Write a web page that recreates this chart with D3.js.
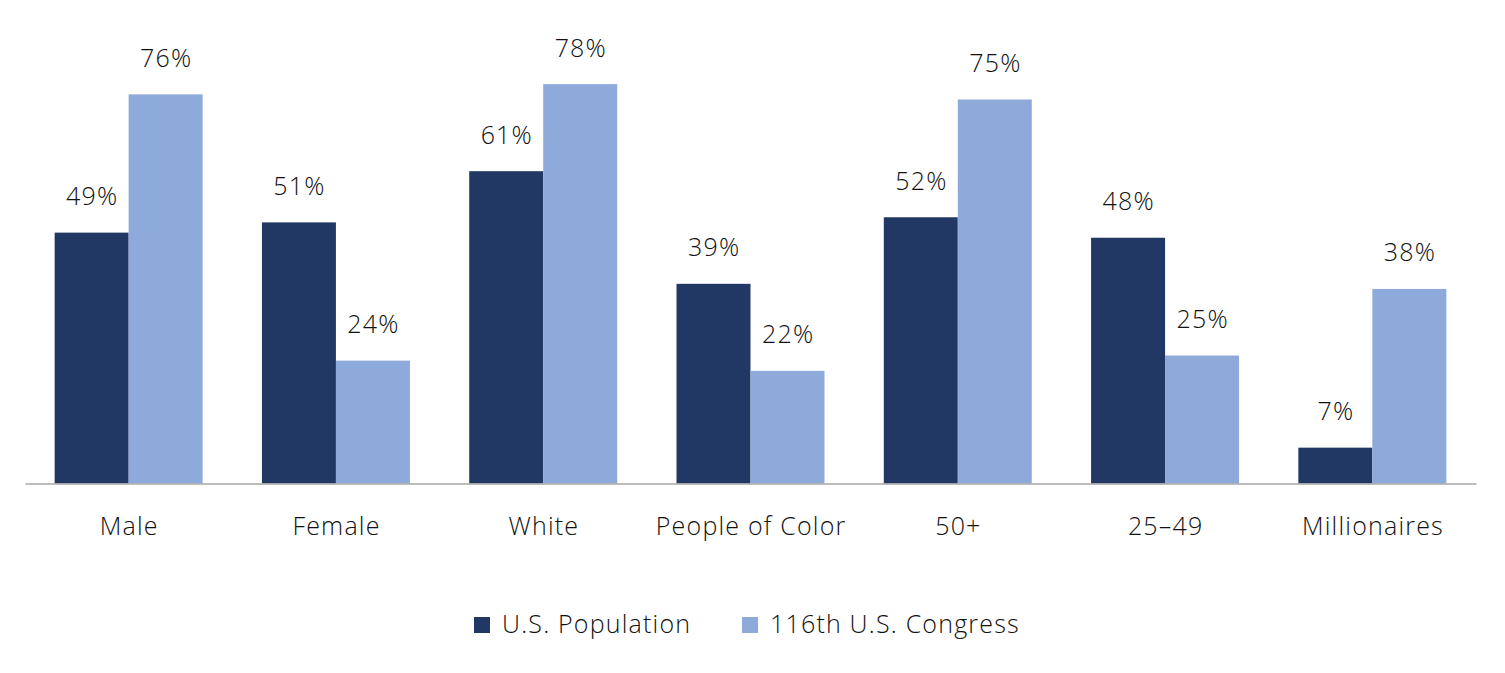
<!DOCTYPE html>
<html><head><meta charset="utf-8">
<script src="https://cdn.jsdelivr.net/npm/d3@7"></script>
<style>body{margin:0;background:#fff;} text{font-family:"Open Sans", Lato, sans-serif;fill:#111;font-weight:300;letter-spacing:1.2px;}</style>
</head><body>
<svg id="c" width="1505" height="673"></svg>
<script>
const categories = ["Male","Female","White","People of Color","50+","25–49","Millionaires"];
const seriesNames = ["U.S. Population","116th U.S. Congress"];
const usPopulation = [49,51,61,39,52,48,7];
const congress = [76,24,78,22,75,25,38];
const colors = ["#213864","#8eaadb"];

const svg = d3.select("#c");
const baseline = 483.5;
const x0 = d3.scaleBand().domain(categories).range([25,1476]).padding(0);
const x1 = d3.scaleBand().domain(seriesNames).range([x0.step()*0.143, x0.step()*0.857]).padding(0);
const y = d3.scaleLinear().domain([0,80]).range([baseline, baseline-80*5.12]);

const data = categories.map((c,i)=>({cat:c, vals:[usPopulation[i], congress[i]]}));

const g = svg.selectAll("g.grp").data(data).join("g").attr("transform",d=>`translate(${x0(d.cat)},0)`);
g.selectAll("rect").data(d=>d.vals.map((v,j)=>({v,s:seriesNames[j],j}))).join("rect")
  .attr("x",d=>x1(d.s)).attr("width",x1.bandwidth())
  .attr("y",d=>y(d.v)).attr("height",d=>baseline-y(d.v))
  .attr("fill",d=>colors[d.j]);
g.selectAll("text.v").data(d=>d.vals.map((v,j)=>({v,s:seriesNames[j],j}))).join("text")
  .attr("class","v").attr("text-anchor","middle")
  .attr("x",d=>x1(d.s)+x1.bandwidth()/2+0.6).attr("y",d=>y(d.v)-27.5)
  .attr("font-size",25).text(d=>d.v+"%");

const axis = d3.axisBottom(x0).tickSize(0).tickPadding(0);
const ax = svg.append("g").attr("transform",`translate(0,${baseline})`).call(axis);
ax.select(".domain").attr("stroke","#a6a6a6").attr("stroke-width",1.5);
ax.selectAll(".tick text").attr("font-size",25).attr("fill","#111")
  .attr("font-family","'Open Sans', Lato, sans-serif").attr("dy",0).attr("y",51).attr("x",0.6);

const legendX = [474,742];
const lg = svg.selectAll("g.lg").data(seriesNames).join("g").attr("class","lg")
  .attr("transform",(d,i)=>`translate(${legendX[i]},617)`);
lg.append("rect").attr("width",16).attr("height",16).attr("fill",(d,i)=>colors[i]);
lg.append("text").attr("x",28).attr("y",16).attr("font-size",25).text(d=>d);
</script>
</body></html>
